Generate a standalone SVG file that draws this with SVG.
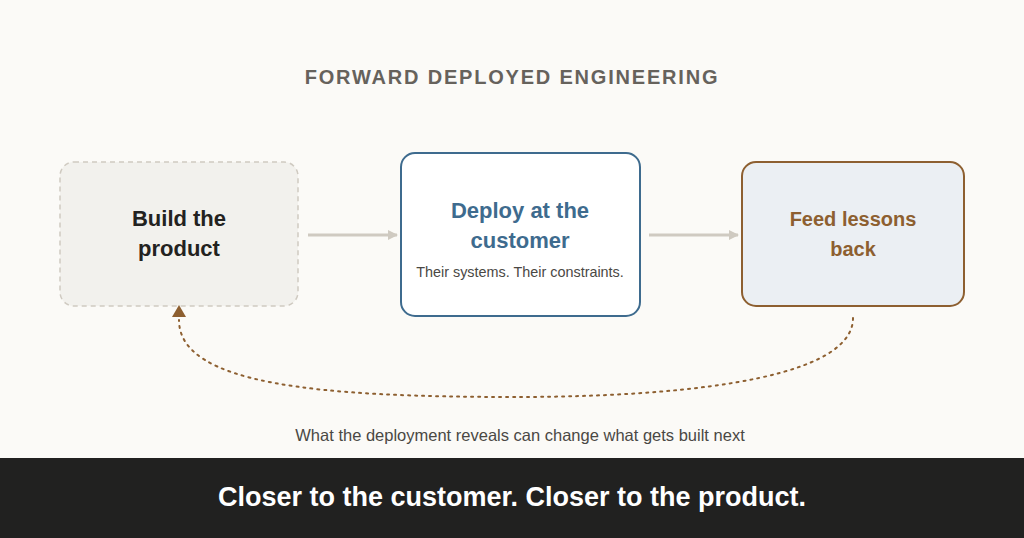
<svg xmlns="http://www.w3.org/2000/svg" width="1024" height="538" viewBox="0 0 1024 538">
<style>
text{font-family:"Liberation Sans",Arial,sans-serif;text-anchor:middle}
.t{font-weight:bold;font-size:22px}
.c{stroke:#cfcac1;stroke-width:3;fill:none}
</style>
<defs>
<marker id="ag" viewBox="0 0 10 10" refX="9" refY="5" markerWidth="10" markerHeight="10" markerUnits="userSpaceOnUse" orient="auto"><path d="M0,0L10,5L0,10z" fill="#cfcac1"/></marker>
</defs>
<rect width="1024" height="538" fill="#fbfaf7"/>
<text x="512" y="84" font-size="20" font-weight="bold" fill="#66625c" letter-spacing="1.8">FORWARD DEPLOYED ENGINEERING</text>
<g id="build">
<rect x="60" y="162" width="238" height="144" rx="14" fill="#f2f1ed" stroke="#cfcac1" stroke-width="1.5" stroke-dasharray="5,4"/>
<text class="t" x="179" y="226" fill="#232220">Build the</text>
<text class="t" x="179" y="256" fill="#232220">product</text>
</g>
<g id="deploy">
<rect x="401" y="153" width="239" height="163" rx="14" fill="#ffffff" stroke="#3e6b8e" stroke-width="2"/>
<text class="t" x="520" y="218" fill="#3e6b8e">Deploy at the</text>
<text class="t" x="520" y="248" fill="#3e6b8e">customer</text>
<text x="520" y="277" font-size="14.4" fill="#4a4844">Their systems. Their constraints.</text>
</g>
<g id="feed">
<rect x="742" y="162" width="222" height="144" rx="14" fill="#ebeff3" stroke="#8d5f30" stroke-width="2"/>
<text x="853" y="226" class="t" fill="#8d5f30" style="font-size:20px">Feed lessons</text>
<text x="853" y="256" class="t" fill="#8d5f30" style="font-size:20px">back</text>
</g>
<g id="connectors">
<line class="c" x1="308" y1="235" x2="397" y2="235" marker-end="url(#ag)"/>
<line class="c" x1="649" y1="235" x2="738" y2="235" marker-end="url(#ag)"/>
<path d="M853,318 C853,385 650,397 515,397 C320,397 179,385 179,320" fill="none" stroke="#8d5f30" stroke-width="2" stroke-dasharray="2,5" stroke-linecap="round"/>
<path d="M172,317L186,317L179,305z" fill="#8d5f30"/>
</g>
<text x="520" y="441" font-size="16.5" fill="#4a4844">What the deployment reveals can change what gets built next</text>
<rect x="0" y="458" width="1024" height="80" fill="#212120"/>
<text x="512" y="506" font-size="27" font-weight="bold" fill="#ffffff">Closer to the customer. Closer to the product.</text>
</svg>
